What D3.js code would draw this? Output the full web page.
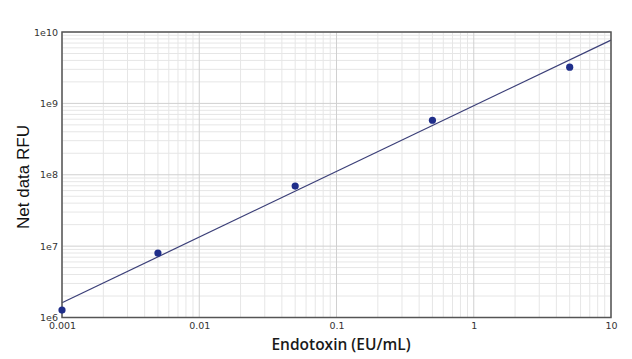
<!DOCTYPE html>
<html><head><meta charset="utf-8">
<script src="https://cdn.jsdelivr.net/npm/d3@7"></script>
<style>body{margin:0;background:#fff;}svg{display:block;}</style>
</head><body>
<svg id="c" width="632" height="359"></svg>
<script>
const endotoxin = [0.001, 0.005, 0.05, 0.5, 5];
const rfu = [1.27e6, 8.0e6, 6.95e7, 5.8e8, 3.22e9];
const fitX = [0.001, 10];
const fitY = [1.61e6, 7.7e9];
const xTicks = [0.001, 0.01, 0.1, 1, 10];
const xTickLabels = ["0.001", "0.01", "0.1", "1", "10"];
const yTicks = [1e6, 1e7, 1e8, 1e9, 1e10];
const yTickLabels = ["1e6", "1e7", "1e8", "1e9", "1e10"];

const svg = d3.select("#c");
const L = 62, R = 611, T = 32, B = 317.5;
const x = d3.scaleLog().domain([0.001, 10]).range([L, R]);
const y = d3.scaleLog().domain([1e6, 1e10]).range([B, T]);

// minor grid
const minorX = [], minorY = [];
for (let d = -3; d < 1; d++) for (let m = 2; m <= 9; m++) minorX.push(m * Math.pow(10, d));
for (let d = 6; d < 10; d++) for (let m = 2; m <= 9; m++) minorY.push(m * Math.pow(10, d));
const g = svg.append("g");
g.selectAll(".mx").data(minorX).join("line")
  .attr("x1", d => x(d)).attr("x2", d => x(d)).attr("y1", T).attr("y2", B)
  .attr("stroke", "#e6e6e6").attr("stroke-width", 1);
g.selectAll(".my").data(minorY).join("line")
  .attr("y1", d => y(d)).attr("y2", d => y(d)).attr("x1", L).attr("x2", R)
  .attr("stroke", "#e6e6e6").attr("stroke-width", 1);
g.selectAll(".Mx").data(xTicks).join("line")
  .attr("x1", d => x(d)).attr("x2", d => x(d)).attr("y1", T).attr("y2", B)
  .attr("stroke", "#d0d0d0").attr("stroke-width", 1);
g.selectAll(".My").data(yTicks).join("line")
  .attr("y1", d => y(d)).attr("y2", d => y(d)).attr("x1", L).attr("x2", R)
  .attr("stroke", "#d0d0d0").attr("stroke-width", 1);

// fit line
svg.append("path")
  .datum(fitX.map((v, i) => [v, fitY[i]]))
  .attr("d", d3.line().x(d => x(d[0])).y(d => y(d[1])))
  .attr("stroke", "#3b3f78").attr("stroke-width", 1.2).attr("fill", "none");

// frame
svg.append("rect").attr("x", L).attr("y", T).attr("width", R - L).attr("height", B - T)
  .attr("fill", "none").attr("stroke", "#555").attr("stroke-width", 1.5);

// points
svg.selectAll(".pt").data(endotoxin).join("circle")
  .attr("cx", d => x(d)).attr("cy", (d, i) => y(rfu[i])).attr("r", 3.6)
  .attr("fill", "#1f2e8a");

// axes
const xAxis = d3.axisBottom(x).tickValues(xTicks).tickSize(0).tickPadding(5)
  .tickFormat((d, i) => xTickLabels[i]);
const xa = svg.append("g").attr("transform", `translate(0,${B})`).call(xAxis);
xa.select(".domain").remove();
xa.selectAll("text").attr("font-family", "DejaVu Sans, sans-serif").attr("font-size", 9.5).attr("fill", "#333");

const yAxis = d3.axisLeft(y).tickValues(yTicks).tickSize(0).tickPadding(4)
  .tickFormat((d, i) => yTickLabels[i]);
const ya = svg.append("g").attr("transform", `translate(${L},0)`).call(yAxis);
ya.select(".domain").remove();
ya.selectAll("text").attr("font-family", "DejaVu Sans, sans-serif").attr("font-size", 9.5).attr("fill", "#333");

// titles
svg.append("text").attr("x", 341).attr("y", 350).attr("text-anchor", "middle")
  .attr("font-family", "Open Sans, sans-serif").attr("font-size", 15.5).attr("font-weight", 600)
  .attr("fill", "#1a1a1a").text("Endotoxin (EU/mL)");
svg.append("text").attr("transform", "translate(29,177) rotate(-90)").attr("text-anchor", "middle")
  .attr("font-family", "Liberation Sans, Arial, sans-serif").attr("font-size", 17)
  .attr("fill", "#111").text("Net data RFU");
</script>
</body></html>
